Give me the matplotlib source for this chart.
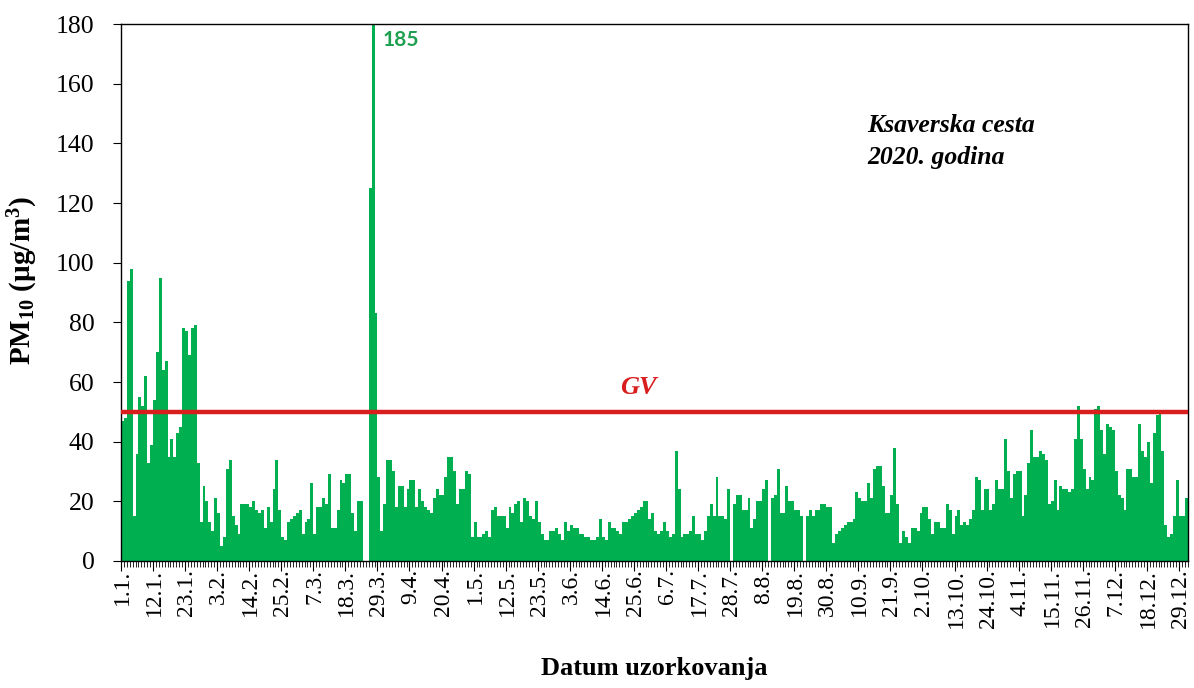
import numpy as np
import matplotlib
matplotlib.use('Agg')
import matplotlib.pyplot as plt

plt.rcParams['font.family'] = ['Liberation Serif', 'DejaVu Serif']
plt.rcParams['mathtext.fontset'] = 'custom'
plt.rcParams['mathtext.rm'] = 'Liberation Serif:bold'
plt.rcParams['mathtext.default'] = 'rm'

nan = np.nan

# daily PM10 (ug/m3), Ksaverska cesta 2020, rows of 11 days starting 1.1.
pm10 = [
    47, 48, 94, 98, 15, 36, 55, 52, 62, 33, 39,
    54, 70, 95, 64, 67, 35, 41, 35, 43, 45, 78,
    77, 69, 78, 79, 33, 13, 25, 20, 13, 10, 21,
    16, 5, 8, 31, 34, 15, 12, 9, 19, 19, 19,
    18, 20, 17, 16, 17, 11, 18, 13, 24, 34, 17,
    8, 7, 13, 14, 15, 16, 17, 9, 13, 14, 26,
    9, 18, 18, 21, 19, 29, 11, 11, 17, 27, 26,
    29, 29, 16, 10, 20, 20, nan, nan, 125, 185, 83,
    28, 10, 19, 34, 34, 30, 18, 25, 25, 18, 24,
    27, 27, 18, 24, 20, 18, 17, 16, 21, 24, 22,
    22, 28, 35, 35, 30, 19, 24, 24, 30, 29, 8,
    13, 8, 8, 9, 10, 8, 17, 18, 15, 15, 15,
    11, 18, 16, 19, 20, 13, 21, 20, 15, 14, 20,
    13, 9, 7, 7, 10, 10, 11, 9, 7, 13, 10,
    12, 11, 11, 9, 9, 8, 8, 7, 7, 8, 14,
    8, 7, 13, 11, 11, 10, 9, 13, 13, 14, 15,
    16, 17, 18, 20, 20, 14, 16, 10, 9, 10, 13,
    10, 8, 9, 37, 24, 8, 9, 9, 10, 15, 9,
    9, 7, 10, 15, 19, 15, 28, 15, 15, 14, 24,
    nan, 19, 22, 22, 17, 17, 21, 11, 14, 20, 20,
    24, 27, nan, 21, 22, 31, 16, 16, 25, 20, 20,
    17, 17, 15, nan, 15, 17, 15, 17, 17, 19, 19,
    18, 18, 6, 9, 10, 11, 12, 13, 13, 14, 23,
    21, 20, 20, 26, 21, 31, 32, 32, 25, 16, 16,
    22, 38, 19, 6, 10, 8, 6, 11, 11, 10, 16,
    18, 18, 14, 9, 13, 13, 11, 11, 19, 17, 9,
    15, 17, 12, 13, 12, 14, 17, 28, 27, 17, 24,
    24, 17, 19, 27, 24, 24, 41, 30, 21, 29, 30,
    30, 15, 22, 33, 44, 35, 35, 37, 36, 34, 19,
    20, 27, 17, 25, 24, 24, 23, 24, 41, 52, 41,
    31, 24, 28, 27, 51, 52, 44, 36, 46, 45, 44,
    30, 22, 21, 17, 31, 31, 28, 28, 46, 37, 35,
    40, 26, 43, 49, 50, 37, 12, 8, 9, 15, 27,
    15, 15, 21,
]

date_labels = ['1.1.', '12.1.', '23.1.', '3.2.', '14.2.', '25.2.', '7.3.', '18.3.',
               '29.3.', '9.4.', '20.4.', '1.5.', '12.5.', '23.5.', '3.6.', '14.6.',
               '25.6.', '6.7.', '17.7.', '28.7.', '8.8.', '19.8.', '30.8.', '10.9.',
               '21.9.', '2.10.', '13.10.', '24.10.', '4.11.', '15.11.', '26.11.',
               '7.12.', '18.12.', '29.12.']
label_step = 11
limit_gv = 50

vals = np.array(pm10, dtype=float)
days = np.arange(len(vals))

fig = plt.figure(figsize=(11.94, 6.88), dpi=100)
ax = fig.add_axes([0.1013, 0.1846, 0.8934, 0.7805])

ax.bar(days + 0.5, vals, width=1.0, color='#00B050', linewidth=0)
ax.axhline(limit_gv, color='#D91E1E', lw=3.2, zorder=3)

ax.set_xlim(0, len(vals))
ax.set_ylim(0, 180)
ax.set_yticks(np.arange(0, 181, 20))
ax.tick_params(axis='y', labelsize=18.5, length=6, direction='out', pad=13)

# tick marks: long every 11 days, short every day
ax.set_xticks(np.arange(0, len(vals) + 1, label_step))
ax.set_xticks(np.arange(0, len(vals) + 1), minor=True)
ax.tick_params(axis='x', which='major', length=7, labelbottom=False)
ax.tick_params(axis='x', which='minor', length=4)

sec = ax.secondary_xaxis('bottom')
sec.set_xticks(np.arange(0, len(vals), label_step) + 0.5, date_labels)
sec.tick_params(length=0, labelsize=17, rotation=90, pad=6)
sec.spines['bottom'].set_visible(False)
sec.set_xlabel('Datum uzorkovanja', fontsize=19, fontweight='bold', labelpad=21)

ax.set_ylabel(r'PM$_{10}$ (µg/m$^{3}$)', fontsize=21, fontweight='bold')
ax.yaxis.set_label_coords(-0.076, 0.523)

for s in ax.spines.values():
    s.set_linewidth(1.0)

ax.text(0.4847, limit_gv + 8, 'GV', transform=ax.get_yaxis_transform(),
        color='#D91E1E', fontsize=19, fontweight='bold', fontstyle='italic',
        ha='center', va='center')

ax.text(0.700, 0.833, 'Ksaverska cesta\n2020. godina', transform=ax.transAxes,
        fontsize=18.5, fontweight='bold', fontstyle='italic', ha='left', va='top',
        linespacing=1.5)

peak = int(np.nanargmax(vals))
ax.annotate(f'{vals[peak]:.0f}', xy=(peak + 0.5, 180), xytext=(6.5, -11.5),
            textcoords='offset points', color='#1EA050', fontsize=15,
            fontweight='bold', family='Lato', ha='left', va='center')

fig.savefig('out.png', dpi=100)
